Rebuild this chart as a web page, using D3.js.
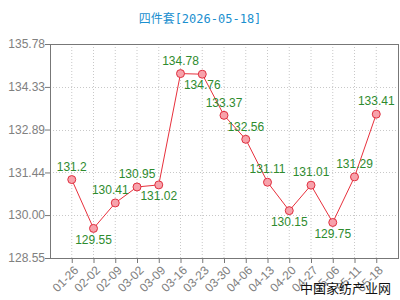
<!DOCTYPE html>
<html>
<head>
<meta charset="utf-8">
<script src="https://cdn.jsdelivr.net/npm/d3@7"></script>
<style>
  body { margin: 0; background: #fff; }
  svg { display: block; }
</style>
</head>
<body>
<svg width="400" height="300"></svg>
<script>
// data
var dates = ["01-26", "02-02", "02-09", "03-02", "03-09", "03-16", "03-23", "03-30",
             "04-06", "04-13", "04-20", "04-27", "05-06", "05-11", "05-18"];
var prices = [131.2, 129.55, 130.41, 130.95, 131.02, 134.78, 134.76, 133.37,
              132.56, 131.11, 130.15, 131.01, 129.75, 131.29, 133.41];
var yTicks = [128.55, 130.00, 131.44, 132.89, 134.33, 135.78];
// where each value label sits: above or below its point
var labelSide = ["up", "down", "upleft", "up", "down", "up", "down", "up",
                 "up", "up", "down", "up", "down", "up", "up"];

var svg = d3.select("svg"),
    margin = {top: 44, right: 2, bottom: 42, left: 50},
    width = +svg.attr("width") - margin.left - margin.right,
    height = +svg.attr("height") - margin.top - margin.bottom;

var x = d3.scalePoint().domain(dates).range([0, width]).padding(1),
    y = d3.scaleLinear().domain([128.55, 135.78]).range([height, 0]);

var font = "'Liberation Sans', Arial, sans-serif";

// title
svg.append("text")
    .attr("x", 200)
    .attr("y", 23)
    .attr("text-anchor", "middle")
    .attr("fill", "#1b8fcf")
    .style("font-family", "'DejaVu Sans Mono', 'Noto Sans CJK SC', monospace")
    .style("font-size", "12px")
    .text("四件套[2026-05-18]");

var g = svg.append("g")
    .attr("transform", "translate(" + margin.left + "," + margin.top + ")");

// dotted grid
g.selectAll(".vgrid")
  .data(dates)
  .enter().append("line")
    .attr("x1", function(d) { return x(d); })
    .attr("x2", function(d) { return x(d); })
    .attr("y1", 0)
    .attr("y2", height)
    .attr("stroke", "#c8c8c8")
    .attr("stroke-dasharray", "1,2");

g.selectAll(".hgrid")
  .data(yTicks.slice(1, -1))
  .enter().append("line")
    .attr("x1", 0)
    .attr("x2", width)
    .attr("y1", function(d) { return Math.round(y(d)) + 0.5; })
    .attr("y2", function(d) { return Math.round(y(d)) + 0.5; })
    .attr("stroke", "#c8c8c8")
    .attr("stroke-dasharray", "1,2");

// frame
g.append("rect")
    .attr("x", 0.5)
    .attr("y", 0.5)
    .attr("width", width)
    .attr("height", height)
    .attr("fill", "none")
    .attr("stroke", "#777");

// axes
var yAxis = g.append("g")
    .call(d3.axisLeft(y).tickValues(yTicks).tickFormat(d3.format(".2f")).tickSizeOuter(0).tickSize(5));
yAxis.select(".domain").remove();
yAxis.selectAll("line").attr("stroke", "#777");
yAxis.selectAll("text")
    .attr("x", -5)
    .attr("fill", "#808080")
    .style("font-family", font)
    .style("font-size", "12px");

var xAxis = g.append("g")
    .attr("transform", "translate(0," + height + ")")
    .call(d3.axisBottom(x).tickSizeOuter(0).tickSize(5));
xAxis.select(".domain").remove();
xAxis.selectAll("line").attr("stroke", "#777");
xAxis.selectAll("text")
    .attr("y", 0)
    .attr("dy", "0.35em")
    .attr("text-anchor", "end")
    .attr("transform", "translate(4,10) rotate(-45)")
    .attr("fill", "#808080")
    .style("font-family", font)
    .style("font-size", "12px");

// line
var line = d3.line()
    .x(function(d, i) { return x(dates[i]); })
    .y(function(d) { return y(d); });

g.append("path")
    .datum(prices)
    .attr("fill", "none")
    .attr("stroke", "#e8303c")
    .attr("stroke-width", 1)
    .attr("d", line);

g.selectAll(".dot")
  .data(prices)
  .enter().append("circle")
    .attr("cx", function(d, i) { return x(dates[i]); })
    .attr("cy", function(d) { return y(d); })
    .attr("r", 4)
    .attr("fill", "#f7a2ab")
    .attr("stroke", "#e03040");

// value labels
g.selectAll(".lbl")
  .data(prices)
  .enter().append("text")
    .attr("x", function(d, i) { return x(dates[i]) + (labelSide[i] == "upleft" ? -5 : 0); })
    .attr("y", function(d, i) { return y(d) + (labelSide[i] == "down" ? 11 : -13); })
    .attr("dy", "0.35em")
    .attr("text-anchor", "middle")
    .attr("fill", "#2e8b2e")
    .style("font-family", font)
    .style("font-size", "12px")
    .text(function(d) { return d; });

// watermark
svg.append("text")
    .attr("x", 300)
    .attr("y", 293)
    .attr("fill", "#111")
    .style("font-family", "'Noto Sans CJK SC', sans-serif")
    .style("font-size", "13px")
    .text("中国家纺产业网");
</script>
</body>
</html>
